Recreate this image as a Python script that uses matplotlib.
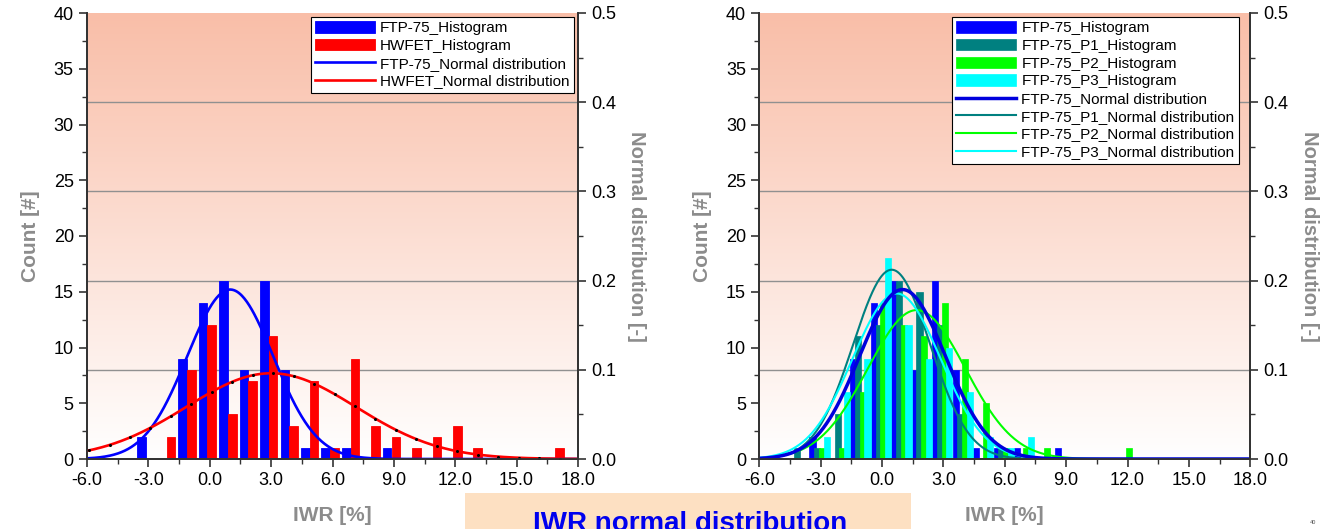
import numpy as np
import matplotlib.pyplot as plt
from matplotlib.patches import Rectangle
from matplotlib.ticker import MultipleLocator, FormatStrFormatter

plt.rcParams['font.family'] = ['Liberation Sans', 'DejaVu Sans']

# IWR bins [%], one per integer from -6 to 17
iwr_bins = np.arange(-6, 18)

# left chart: FTP-75 vs HWFET counts per bin
ftp75_counts = [0, 0, 0, 2, 0, 9, 14, 16, 8, 16, 8, 1, 1, 1, 0, 1,
                0, 0, 0, 0, 0, 0, 0, 0]
hwfet_counts = [0, 0, 0, 0, 2, 8, 12, 4, 7, 11, 3, 7, 1, 9, 3, 2,
                1, 2, 3, 1, 0, 0, 0, 1]

# right chart: FTP-75 phases
p1_counts = [0, 0, 1, 1, 4, 11, 12, 16, 15, 12, 4, 0, 1, 0, 0, 0,
             0, 0, 0, 0, 0, 0, 0, 0]
p2_counts = [0, 0, 0, 1, 1, 6, 14, 12, 11, 14, 9, 5, 1, 1, 1, 0,
             0, 0, 1, 0, 0, 0, 0, 0]
p3_counts = [0, 0, 0, 2, 6, 9, 18, 12, 9, 10, 6, 2, 1, 2, 0, 0,
             0, 0, 0, 0, 0, 0, 0, 0]

# fitted normal distributions (mean, std)
ftp75_fit = (1.0, 2.1)
hwfet_fit = (3.0, 4.15)
p1_fit = (0.47, 1.88)
p2_fit = (1.69, 2.39)
p3_fit = (0.71, 2.15)

COUNT_MAX = 40
NORM_MAX = 0.5
GRAY = '#8c8c8c'


def normal_pdf(x, fit):
    m, s = fit
    return np.exp(-0.5 * ((x - m) / s) ** 2) / (s * np.sqrt(2 * np.pi))


def setup_axes(ax):
    # background gradient salmon -> white
    top = np.array([249, 190, 168]) / 255.0
    bottom = np.array([255, 255, 255]) / 255.0
    t = np.linspace(0, 1, 256)[:, None]
    img = (top * (1 - t) + bottom * t).reshape(256, 1, 3)
    ax.imshow(img, extent=(0, 1, 0, 1), transform=ax.transAxes,
              aspect='auto', zorder=0)

    ax2 = ax.twinx()
    ax.set_xlim(-6, 18)
    ax.set_ylim(0, COUNT_MAX)
    ax2.set_ylim(0, NORM_MAX)

    for v in [0.1, 0.2, 0.3, 0.4]:
        ax.axhline(v * COUNT_MAX / NORM_MAX, color='#909090', lw=1.0, zorder=1)

    ax.xaxis.set_major_locator(MultipleLocator(3))
    ax.xaxis.set_minor_locator(MultipleLocator(1.5))
    ax.xaxis.set_major_formatter(FormatStrFormatter('%.1f'))
    ax.yaxis.set_major_locator(MultipleLocator(5))
    ax.yaxis.set_minor_locator(MultipleLocator(2.5))
    ax2.yaxis.set_major_locator(MultipleLocator(0.1))
    ax2.yaxis.set_minor_locator(MultipleLocator(0.05))
    ax2.yaxis.set_major_formatter(FormatStrFormatter('%.1f'))

    for a in (ax, ax2):
        a.tick_params(which='major', direction='out', length=6, width=1.2,
                      labelsize=13, colors='#333333', labelcolor='black')
        a.tick_params(which='minor', direction='out', length=3.5, width=1.0,
                      colors='#333333')
        for sp in a.spines.values():
            sp.set_color('#333333')
            sp.set_linewidth(1.3)
        a.spines['top'].set_visible(False)

    ax.set_ylabel('Count [#]', color=GRAY, fontweight='bold', fontsize=15,
                  labelpad=10)
    ax2.set_ylabel('Normal distribution [-]', color=GRAY, fontweight='bold',
                   fontsize=14.5, rotation=270, va='bottom', labelpad=8)
    ax.set_xlabel('IWR [%]', color=GRAY, fontweight='bold', fontsize=15,
                  labelpad=12)
    return ax2


def make_legend(ax2, handles, labels):
    leg = ax2.legend(handles, labels, loc='upper right', fontsize=11,
                     frameon=True, fancybox=False, framealpha=1,
                     edgecolor='black', borderpad=0.3, labelspacing=0.24,
                     handlelength=3.9, handleheight=0.75, handletextpad=0.35,
                     borderaxespad=0.25)
    leg.get_frame().set_linewidth(0.8)
    return leg


fig = plt.figure(figsize=(13.21, 5.29), dpi=100)
fig.patch.set_facecolor('white')

xs = np.linspace(-6, 18, 600)

# ---------- left chart ----------
axL = fig.add_axes([87 / 1321, 70 / 529, 491 / 1321, 446 / 529])
axL2 = setup_axes(axL)
axL.bar(iwr_bins - 0.33, ftp75_counts, width=0.42, color='#0000ff',
        edgecolor='#0000ff', lw=0.6, zorder=2, label='FTP-75_Histogram')
axL.bar(iwr_bins + 0.1, hwfet_counts, width=0.42, color='#ff0000',
        edgecolor='#ff0000', lw=0.6, zorder=2, label='HWFET_Histogram')
axL2.plot(xs, normal_pdf(xs, ftp75_fit), color='#0000ff', lw=1.9,
          label='FTP-75_Normal distribution')
axL2.plot(xs, normal_pdf(xs, hwfet_fit), color='#ff0000', lw=1.9,
          label='HWFET_Normal distribution')
axL2.plot(iwr_bins + 0.1, normal_pdf(iwr_bins + 0.1, hwfet_fit), ls='none',
          marker='o', ms=1.2, color='black')
h1, l1 = axL.get_legend_handles_labels()
h2, l2 = axL2.get_legend_handles_labels()
make_legend(axL2, h1 + h2, l1 + l2)

# ---------- right chart ----------
axR = fig.add_axes([759.3 / 1321, 70 / 529, 491 / 1321, 446 / 529])
axR2 = setup_axes(axR)
hist_series = [
    (ftp75_counts, '#0000ff', 'FTP-75_Histogram'),
    (p1_counts, '#008080', 'FTP-75_P1_Histogram'),
    (p2_counts, '#00ff00', 'FTP-75_P2_Histogram'),
    (p3_counts, '#00ffff', 'FTP-75_P3_Histogram'),
]
for i, (counts, col, lab) in enumerate(hist_series):
    axR.bar(iwr_bins - 0.4 + 0.23 * i, counts, width=0.3, color=col,
            edgecolor=col, lw=0.5, zorder=2, label=lab)
curve_series = [
    (p1_fit, '#008080', 1.5, 'FTP-75_P1_Normal distribution'),
    (p2_fit, '#00ff00', 1.5, 'FTP-75_P2_Normal distribution'),
    (p3_fit, '#00ffff', 1.5, 'FTP-75_P3_Normal distribution'),
]
for fit, col, lw, lab in curve_series:
    axR2.plot(xs, normal_pdf(xs, fit), color=col, lw=lw, label=lab)
axR2.plot(xs, normal_pdf(xs, ftp75_fit), color='#0000dd', lw=2.5,
          label='FTP-75_Normal distribution')
# legend order: FTP-75 line first among the lines
h1, l1 = axR.get_legend_handles_labels()
h2, l2 = axR2.get_legend_handles_labels()
h2 = [h2[-1]] + h2[:-1]
l2 = [l2[-1]] + l2[:-1]
make_legend(axR2, h1 + h2, l1 + l2).set_bbox_to_anchor((0.985, 1.0),
                                                      transform=axR2.transAxes)

# ---------- bottom title box ----------
fig.patches.append(Rectangle((465 / 1321, 0), (911 - 465) / 1321, 36 / 529,
                             transform=fig.transFigure, facecolor='#fde0c2',
                             edgecolor='none', zorder=0))
fig.text(690 / 1321, -2 / 529, 'IWR normal distribution', ha='center',
         va='baseline', color='#0000ee', fontweight='bold', fontsize=20)
fig.text(1313 / 1321, 4 / 529, '40', ha='center', va='bottom', fontsize=4,
         color='#555555')

fig.savefig('out.png', dpi=100)
